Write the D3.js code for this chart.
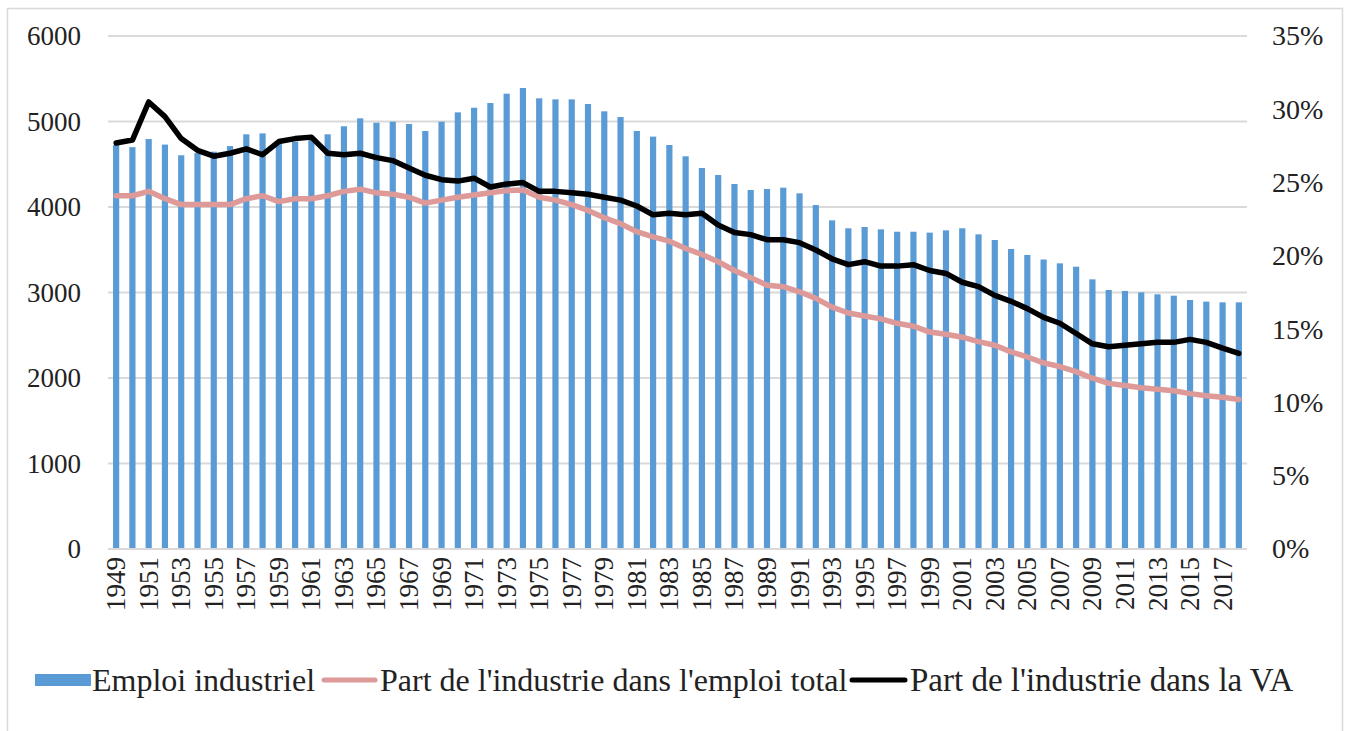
<!DOCTYPE html>
<html>
<head>
<meta charset="utf-8">
<script src="https://cdn.jsdelivr.net/npm/d3@7"></script>
<style>
  body { margin: 0; background: #fff; }
  svg text { font-family: "Liberation Serif", Tinos, "Times New Roman", Times, "DejaVu Serif", serif; fill: #222; }
</style>
</head>
<body>
<script>
// years 1949 - 2018
var years = d3.range(1949, 2019);

// industrial employment (thousands)
var emploi = [4725, 4700, 4795, 4730, 4605, 4630, 4647, 4713, 4850, 4861,
              4750, 4764, 4795, 4850, 4944, 5037, 4986, 4998, 4971, 4889,
              4998, 5107, 5161, 5216, 5325, 5392, 5271, 5259, 5259, 5205,
              5119, 5053, 4889, 4823, 4725, 4593, 4456, 4374, 4269, 4199,
              4211, 4226, 4160, 4023, 3844, 3751, 3766, 3739, 3711, 3711,
              3700, 3727, 3751, 3680, 3614, 3509, 3439, 3386, 3341, 3302,
              3154, 3029, 3018, 3002, 2979, 2963, 2912, 2893, 2885, 2885];

// share of industry in total employment (%)
var partEmploi = [24.1, 24.1, 24.4, 23.9, 23.5, 23.5, 23.5, 23.5, 23.9, 24.1,
                  23.7, 23.9, 23.9, 24.1, 24.4, 24.55, 24.3, 24.2, 24.0, 23.6,
                  23.8, 24.0, 24.15, 24.3, 24.45, 24.5, 24.0, 23.8, 23.5, 23.1,
                  22.6, 22.2, 21.65, 21.3, 21.0, 20.5, 20.1, 19.6, 19.0, 18.5,
                  18.0, 17.9, 17.55, 17.1, 16.5, 16.1, 15.9, 15.7, 15.4, 15.2,
                  14.8, 14.65, 14.45, 14.15, 13.9, 13.45, 13.1, 12.7, 12.45, 12.1,
                  11.65, 11.3, 11.15, 11.0, 10.9, 10.8, 10.6, 10.45, 10.35, 10.2];

// share of industry in value added (%)
var partVA = [27.7, 27.9, 30.5, 29.5, 28.0, 27.2, 26.8, 27.0, 27.3, 26.9,
              27.8, 28.0, 28.1, 27.0, 26.9, 27.0, 26.7, 26.5, 26.0, 25.5,
              25.2, 25.1, 25.3, 24.7, 24.9, 25.0, 24.4, 24.4, 24.3, 24.2,
              24.0, 23.8, 23.4, 22.8, 22.9, 22.8, 22.9, 22.1, 21.6, 21.45,
              21.1, 21.1, 20.9, 20.4, 19.8, 19.4, 19.6, 19.3, 19.3, 19.4,
              19.0, 18.8, 18.2, 17.9, 17.3, 16.9, 16.4, 15.8, 15.4, 14.7,
              14.0, 13.8, 13.9, 14.0, 14.1, 14.1, 14.3, 14.1, 13.7, 13.35];

var leftTicks = [0, 1000, 2000, 3000, 4000, 5000, 6000];
var rightTicks = [0, 5, 10, 15, 20, 25, 30, 35];

var legendLabels = ["Emploi industriel",
                    "Part de l'industrie dans l'emploi total",
                    "Part de l'industrie dans la VA"];

var width = 1347;
var height = 731;
var plotLeft = 108, plotRight = 1247, plotTop = 36, plotBottom = 549;
var serif = "'Liberation Serif', Tinos, 'Times New Roman', Times, 'DejaVu Serif', serif";

var svg = d3.select("body")
            .append("svg")
            .attr("width", width)
            .attr("height", height);

// outer frame
svg.append("rect")
   .attr("x", 7.5)
   .attr("y", 8.5)
   .attr("width", 1335)
   .attr("height", 740)
   .attr("fill", "none")
   .attr("stroke", "#d9d9d9")
   .attr("stroke-width", 1.5);

var x = d3.scaleBand()
          .domain(years)
          .range([plotLeft, plotRight])
          .paddingInner(0.62)
          .paddingOuter(0.31);

var yLeft = d3.scaleLinear().domain([0, 6000]).range([plotBottom, plotTop]);
var yRight = d3.scaleLinear().domain([0, 35]).range([plotBottom, plotTop]);

// gridlines
svg.append("g")
   .selectAll("line")
   .data(leftTicks)
   .enter()
   .append("line")
   .attr("x1", plotLeft)
   .attr("x2", plotRight)
   .attr("y1", function(d) { return yLeft(d); })
   .attr("y2", function(d) { return yLeft(d); })
   .attr("stroke", "#d9d9d9")
   .attr("stroke-width", 2);

// bars
svg.append("g")
   .selectAll("rect")
   .data(emploi)
   .enter()
   .append("rect")
   .attr("x", function(d, i) { return x(years[i]); })
   .attr("width", x.bandwidth())
   .attr("y", function(d) { return yLeft(d); })
   .attr("height", function(d) { return plotBottom - yLeft(d); })
   .attr("fill", "#5b9bd5");

// axis line on top of bars
svg.append("line")
   .attr("x1", plotLeft).attr("x2", plotRight)
   .attr("y1", plotBottom).attr("y2", plotBottom)
   .attr("stroke", "#d9d9d9")
   .attr("stroke-width", 2);

var cx = function(i) { return x(years[i]) + x.bandwidth() / 2; };

var line = d3.line()
             .x(function(d, i) { return cx(i); })
             .y(function(d) { return yRight(d); });

svg.append("path")
   .datum(partEmploi)
   .attr("d", line)
   .attr("fill", "none")
   .attr("stroke", "#dd9a98")
   .attr("stroke-width", 5.5)
   .attr("stroke-linejoin", "round")
   .attr("stroke-linecap", "round");

svg.append("path")
   .datum(partVA)
   .attr("d", line)
   .attr("fill", "none")
   .attr("stroke", "#000")
   .attr("stroke-width", 5.5)
   .attr("stroke-linejoin", "round")
   .attr("stroke-linecap", "round");

// left axis
var axisL = svg.append("g")
               .attr("transform", "translate(" + plotLeft + ",0)")
               .call(d3.axisLeft(yLeft).tickValues(leftTicks).tickSize(0).tickPadding(27).tickFormat(d3.format("d")));
axisL.select(".domain").remove();
axisL.attr("font-family", null);
axisL.selectAll("text").style("font-size", "27px").style("font-family", serif).attr("fill", "#1a1a1a");

// right axis
var axisR = svg.append("g")
               .attr("transform", "translate(" + plotRight + ",0)")
               .call(d3.axisRight(yRight).tickValues(rightTicks).tickSize(0).tickPadding(25)
                       .tickFormat(function(d) { return d + "%"; }));
axisR.select(".domain").remove();
axisR.attr("font-family", null);
axisR.selectAll("text").style("font-size", "28px").style("font-family", serif).attr("fill", "#1a1a1a");

// year labels, every other year
svg.append("g")
   .selectAll("text")
   .data(years.filter(function(d, i) { return i % 2 == 0; }))
   .enter()
   .append("text")
   .attr("transform", function(d) {
     return "translate(" + (x(d) + x.bandwidth() / 2 + 9) + "," + (plotBottom + 8) + ")rotate(-90)";
   })
   .attr("text-anchor", "end")
   .style("font-size", "27px")
   .style("font-family", serif)
   .attr("fill", "#444")
   .text(function(d) { return d; });

// legend
var ly = 680;
var legend = svg.append("g").style("font-family", serif);

legend.append("rect")
      .attr("x", 35).attr("y", ly - 6)
      .attr("width", 56).attr("height", 12)
      .attr("fill", "#5b9bd5");
legend.append("text")
      .attr("x", 92).attr("y", ly + 11)
      .style("font-size", "32px")
      .attr("fill", "#111")
      .text(legendLabels[0]);

legend.append("line")
      .attr("x1", 324).attr("x2", 375)
      .attr("y1", ly).attr("y2", ly)
      .attr("stroke", "#dd9a98").attr("stroke-width", 5).attr("stroke-linecap", "round");
legend.append("text")
      .attr("x", 380).attr("y", ly + 11)
      .style("font-size", "32px")
      .attr("fill", "#111")
      .text(legendLabels[1]);

legend.append("line")
      .attr("x1", 852).attr("x2", 905)
      .attr("y1", ly).attr("y2", ly)
      .attr("stroke", "#000").attr("stroke-width", 5).attr("stroke-linecap", "round");
legend.append("text")
      .attr("x", 910).attr("y", ly + 11)
      .style("font-size", "33px")
      .attr("fill", "#111")
      .text(legendLabels[2]);
</script>
</body>
</html>
